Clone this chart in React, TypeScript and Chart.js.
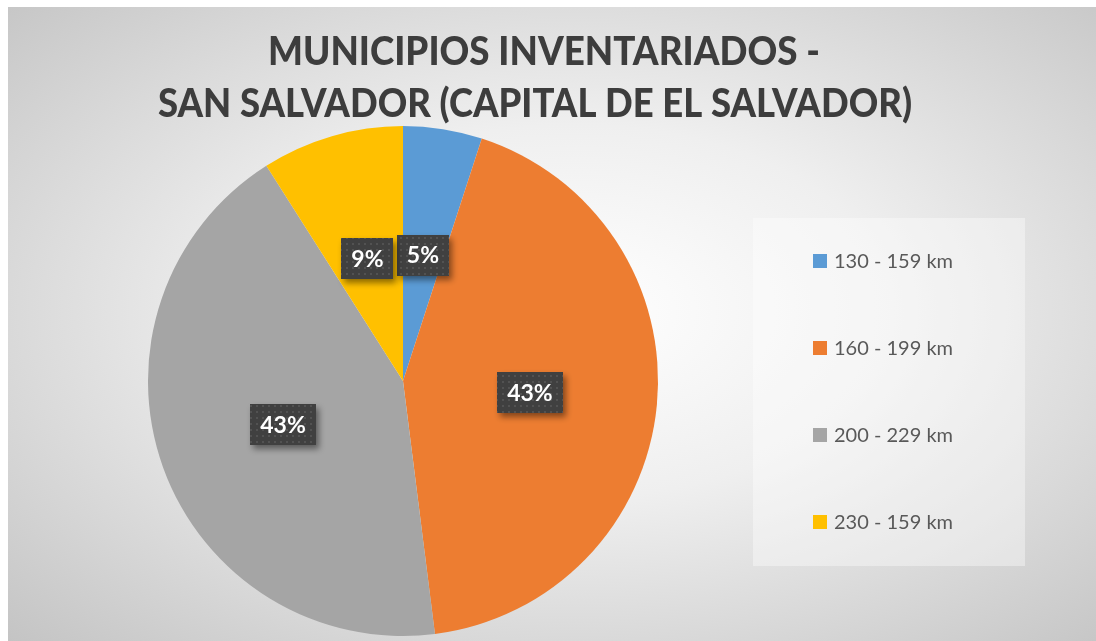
import React, { useEffect, useRef } from "react";
import { Chart, registerables } from "chart.js";

Chart.register(...registerables);

const TITLE_LINES = ["MUNICIPIOS INVENTARIADOS -", "SAN SALVADOR (CAPITAL DE EL SALVADOR)"];
const CATEGORIES = ["130 - 159 km", "160 - 199 km", "200 - 229 km", "230 - 159 km"];
const SHARES = [5, 43, 43, 9];
const COLORS = ["#5B9BD5", "#ED7D31", "#A5A5A5", "#FFC000"];

const W = 1088;
const H = 634;

const decorPlugin = {
  id: "decor",
  afterDraw(chart: any) {
    const ctx: CanvasRenderingContext2D = chart.ctx;
    ctx.save();

    // Title (scaled horizontally to mimic a condensed face)
    const titleSpecs = [
      { x: 260, y: 58, w: 552 },
      { x: 150, y: 110, w: 754 },
    ];
    ctx.fillStyle = "#3d3d3d";
    ctx.font = "900 39px Lato";
    ctx.textBaseline = "alphabetic";
    ctx.textAlign = "left";
    TITLE_LINES.forEach((line, i) => {
      const s = titleSpecs[i];
      const m = ctx.measureText(line).width;
      ctx.save();
      ctx.translate(s.x, s.y);
      ctx.scale(s.w / m, 1);
      ctx.fillText(line, 0, 0);
      ctx.restore();
    });

    // Legend
    ctx.fillStyle = "rgba(255,255,255,0.38)";
    ctx.fillRect(745, 211, 272, 348);
    const labels: string[] = chart.data.labels;
    const colors: string[] = chart.data.datasets[0].backgroundColor;
    ctx.font = "20px Lato";
    ctx.textBaseline = "middle";
    labels.forEach((lab, i) => {
      const cy = 254 + i * 87;
      ctx.fillStyle = colors[i];
      ctx.fillRect(805, cy - 7, 14, 14);
      ctx.fillStyle = "#595959";
      ctx.fillText(lab, 826, cy + 1);
    });

    // Data labels
    const pc = document.createElement("canvas");
    pc.width = 6;
    pc.height = 6;
    const p = pc.getContext("2d")!;
    p.fillStyle = "#404040";
    p.fillRect(0, 0, 6, 6);
    p.fillStyle = "#525252";
    p.fillRect(2, 2, 2, 2);
    const pattern = ctx.createPattern(pc, "repeat");

    const meta = chart.getDatasetMeta(0);
    const data: number[] = chart.data.datasets[0].data;
    const total = data.reduce((a, b) => a + b, 0);
    ctx.font = "bold 23px Lato";
    ctx.textAlign = "center";
    meta.data.forEach((arc: any, i: number) => {
      const { x, y } = arc.getCenterPoint();
      const text = Math.round((data[i] / total) * 100) + "%";
      const bw = ctx.measureText(text).width + 20;
      const bh = 41;
      ctx.save();
      ctx.shadowColor = "rgba(0,0,0,0.45)";
      ctx.shadowBlur = 6;
      ctx.shadowOffsetX = 3;
      ctx.shadowOffsetY = 4;
      ctx.fillStyle = pattern || "#404040";
      ctx.fillRect(Math.round(x - bw / 2), Math.round(y - bh / 2), Math.round(bw), bh);
      ctx.restore();
      ctx.fillStyle = "#ffffff";
      ctx.fillText(text, x, y + 1);
    });

    ctx.restore();
  },
};

export default function App() {
  const ref = useRef<HTMLCanvasElement>(null);

  useEffect(() => {
    if (!ref.current) return;
    const chart = new Chart(ref.current, {
      type: "pie",
      data: {
        labels: CATEGORIES,
        datasets: [
          {
            data: SHARES,
            backgroundColor: COLORS,
            borderWidth: 0,
          },
        ],
      },
      options: {
        responsive: false,
        animation: false,
        devicePixelRatio: 1,
        layout: { padding: { left: 140, top: 119, right: 438, bottom: 5 } },
        plugins: {
          legend: { display: false },
          tooltip: { enabled: false },
          title: { display: false },
        },
      },
      plugins: [decorPlugin],
    });
    return () => chart.destroy();
  }, []);

  return (
    <div
      style={{
        position: "absolute",
        left: 8,
        top: 7,
        width: W,
        height: H,
        background:
          "radial-gradient(ellipse farthest-corner at 52% 48%, #ffffff 0%, #efefef 40%, #c4c4c4 100%)",
      }}
    >
      <canvas ref={ref} width={W} height={H} style={{ display: "block" }} />
    </div>
  );
}
